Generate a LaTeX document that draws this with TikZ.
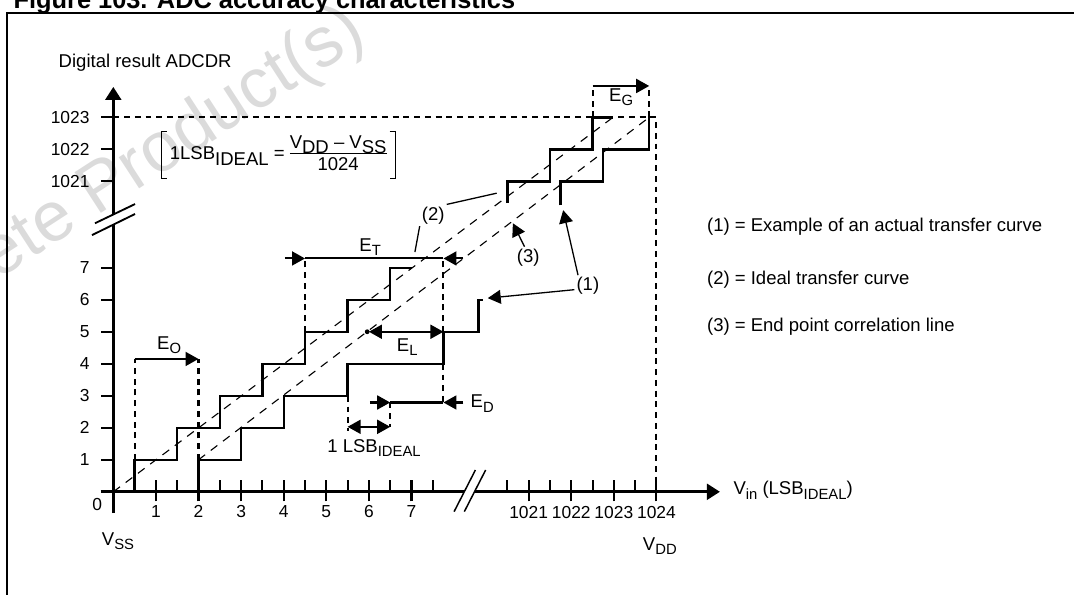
\documentclass[tikz,border=0pt]{standalone}
\usepackage{fontspec}
\setsansfont{Liberation Sans}
\usetikzlibrary{arrows.meta}
\newcommand{\sub}[1]{\raisebox{-0.45ex}{\footnotesize #1}}
\newcommand{\low}[1]{\raisebox{-0.55ex}{#1}}

\begin{document}
\begin{tikzpicture}[x=23pt, y=17.28pt, font=\sffamily, axis/.style={line width=1.5pt}, stair/.style={line width=1.3pt}, guide/.style={line width=1.1pt, dash pattern=on 3.2pt off 2.6pt}, corr/.style={line width=0.6pt, dash pattern=on 4.5pt off 3.8pt}, tick/.style={line width=1.1pt}, ticklab/.style={inner sep=0pt, font=\sffamily\fontsize{9.4}{11}\selectfont}, err/.style={line width=1.1pt}, lead/.style={line width=0.7pt}, head/.style={-{Triangle[length=7pt,width=7.5pt]}}, both/.style={{Triangle[length=7pt,width=7.5pt]}-{Triangle[length=7pt,width=7.5pt]}}, note/.style={anchor=west, inner sep=0pt}]
\useasboundingbox (-2.66,-3.197) rectangle (22.552,15.366);
\node[text=black!14, font=\sffamily\fontsize{38}{38}\selectfont, rotate=33, anchor=base east, inner sep=0pt] (mark) at (6.0,14.12) {Obsolete Product(s)};
\node[anchor=base west, inner sep=0pt, font=\sffamily\bfseries\fontsize{13.7}{16}\selectfont] (title) at (-2.35,15.11) {Figure 103. ADC accuracy characteristics};
\draw[line width=1.1pt] (-2.49,-3.4) |- (22.7,14.96);
\draw[axis] (-0.3,0) -- (8.24,0); \draw[axis, -{Triangle[length=7pt,width=8.5pt]}] (8.48,0) -- (14.24,0);
\draw[axis] (0,-0.67) -- (0,8.35); \draw[axis, -{Triangle[length=7pt,width=8.5pt]}] (0,8.66) -- (0,12.65);
\draw[line width=0.8pt] (8.0,-0.62) -- (8.5,0.68) (8.24,-0.62) -- (8.74,0.68);
\draw[line width=1pt] (-0.5,8.02) -- (0.51,8.68) (-0.43,8.39) -- (0.51,8.99);
\foreach \t in {0.5,1.5,...,7.5} \draw[tick] (\t,0) -- (\t,0.375);
\foreach \t in {9.25,10.25,11.25,12.25} \draw[tick] (\t,0) -- (\t,0.375);
\foreach \t in {1,...,7} {\draw[tick] (\t,-0.3) -- (\t,0.375); \node[ticklab, anchor=north] (xl\t) at (\t,-0.42) {\t};}
\foreach \t/\v in {9.75/1021,10.75/1022,11.75/1023,12.75/1024} {\draw[tick] (\t,-0.3) -- (\t,0.375); \node[ticklab, anchor=north] (xl\v) at (\t,-0.45) {\v};}
\foreach \v in {1,...,7} {\draw[tick] (-0.28,\v) -- (0,\v); \node[ticklab, anchor=east] (yl\v) at (-0.55,\v) {\v};}
\foreach \y/\v in {9.7/1021,10.7/1022,11.7/1023} {\draw[tick] (-0.28,\y) -- (0,\y); \node[ticklab, anchor=east] (yl\v) at (-0.55,\y) {\v};}
\node[ticklab] (zero) at (-0.38,-0.39) {0};
\node[anchor=north, inner sep=0pt] (vss) at (0.11,-1.26) {V\sub{SS}};
\node[anchor=north, inner sep=0pt] (vdd) at (12.83,-1.42) {V\sub{DD}};
\node[anchor=west, inner sep=0pt] (ylabel) at (-1.29,13.41) {Digital result ADCDR};
\node[anchor=west, inner sep=0pt] (xlabel) at (14.55,0.05) {V\sub{in} (LSB\sub{IDEAL})};
\draw[stair] (0.5,0) -- (0.5,1) -- (1.5,1) -- (1.5,2) -- (2.5,2) -- (2.5,3) -- (3.5,3) -- (3.5,4) -- (4.5,4) -- (4.5,5) -- (5.5,5) -- (5.5,6) -- (6.5,6) -- (6.5,7) -- (7,7);
\draw[stair] (9.25,9.02) -- (9.25,9.7) -- (10.25,9.7) -- (10.25,10.7) -- (11.25,10.7) -- (11.25,11.7) -- (11.73,11.7);
\draw[stair] (2,0) -- (2,1) -- (3,1) -- (3,2) -- (4,2) -- (4,3) -- (5.5,3) -- (5.5,4) -- (7.75,4) -- (7.75,5) -- (8.57,5) -- (8.57,6) -- (8.67,6);
\draw[stair] (10.5,8.95) -- (10.5,9.7) -- (11.5,9.7) -- (11.5,10.7) -- (12.58,10.7) -- (12.58,11.7);
\draw[corr] (0,0) -- (11.73,11.7); \draw[corr] (2,1) -- (12.58,11.7);
\draw[guide] (0,11.7) -- (12.75,11.7) -- (12.75,0);
\draw[guide] (0.5,1) -- (0.5,4.15) (2,1) -- (2,4.15);
\draw[guide] (4.5,5) -- (4.5,7.29) (7.75,5) -- (7.75,7.29) (7.75,4) -- (7.75,2.79);
\draw[guide] (5.5,3) -- (5.5,1.9) (6.5,2.79) -- (6.5,2.03);
\draw[guide] (11.25,11.7) -- (11.25,12.68) (12.58,11.7) -- (12.58,12.68);
\draw[err, head] (0.5,4.15) -- (2,4.15); \node (eo) at (1.31,4.58) {E\sub{O}};
\draw[err, head] (4.03,7.29) -- (4.5,7.29); \draw[err] (4.5,7.29) -- (7.75,7.29); \draw[err, head] (8.22,7.29) -- (7.75,7.29); \node (et) at (6.03,7.65) {E\sub{T}};
\fill (5.96,5) circle (1.3pt); \draw[err, both] (6.0,5) -- (7.75,5); \node (el) at (6.9,4.52) {E\sub{L}};
\draw[err, head] (6.02,2.79) -- (6.5,2.79); \draw[err] (6.5,2.79) -- (7.75,2.79); \draw[err, head] (8.22,2.79) -- (7.75,2.79); \node (ed) at (8.66,2.75) {E\sub{D}};
\draw[err, both] (5.5,2.03) -- (6.5,2.03); \node (lsb) at (6.12,1.37) {1 LSB\sub{IDEAL}};
\draw[err, head] (11.25,12.68) -- (12.58,12.68); \node (eg) at (11.92,12.32) {E\sub{G}};
\node[inner xsep=4.5pt, inner ysep=0.5pt] (formula) at (3.87,10.52) {1LSB\low{IDEAL} = \begin{tabular}{@{}c@{}}V\low{DD} – V\low{SS}\\[-1pt]\hline\rule{0pt}{9pt}1024\end{tabular}};
\draw[line width=0.5pt] ([xshift=3pt]formula.north west) -- (formula.north west) -- (formula.south west) -- ([xshift=3pt]formula.south west);
\draw[line width=0.5pt] ([xshift=-3pt]formula.north east) -- (formula.north east) -- (formula.south east) -- ([xshift=-3pt]formula.south east);
\node[inner sep=1pt] (lbl2) at (7.51,8.64) {(2)}; \coordinate (c2a) at (9.0,9.33); \coordinate (c2b) at (7.08,7.49);
\draw[lead] (lbl2.north east) -- (c2a); \draw[lead] (lbl2.south west) -- (c2b);
\node[inner sep=1pt] (lbl3) at (9.74,7.32) {(3)}; \coordinate (c3) at (9.38,8.39);
\draw[lead, head] ([xshift=-2pt]lbl3.north) -- (c3);
\node[inner sep=1pt] (lbl1) at (11.14,6.43) {(1)}; \coordinate (c1a) at (8.79,6.05); \coordinate (c1b) at (10.56,8.8);
\draw[lead, head] ([yshift=-2pt]lbl1.west) -- (c1a); \draw[lead, head] ([xshift=2pt]lbl1.north west) -- (c1b);
\node[note] (n1) at (13.93,8.27) {(1) = Example of an actual transfer curve};
\node[note] (n2) at (13.93,6.62) {(2) = Ideal transfer curve};
\node[note] (n3) at (13.93,5.15) {(3) = End point correlation line};
\end{tikzpicture}
\end{document}
